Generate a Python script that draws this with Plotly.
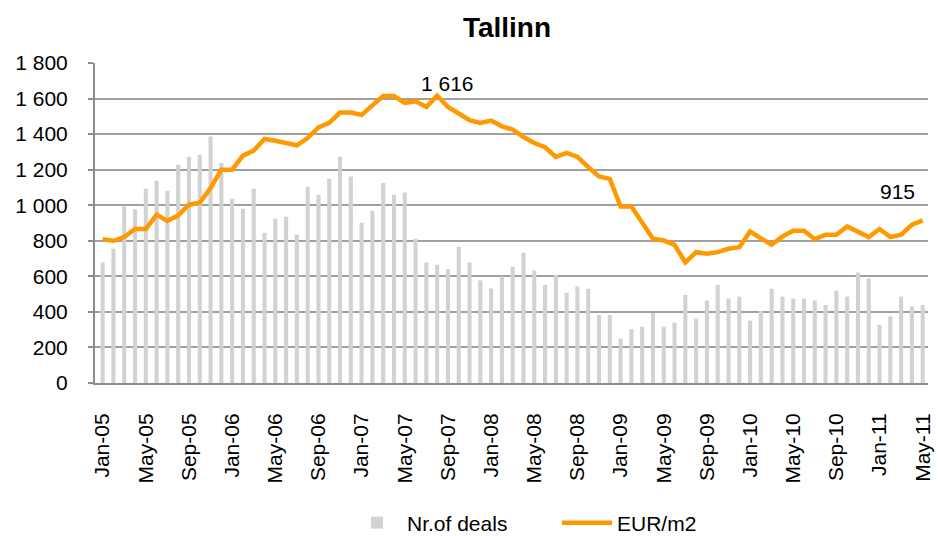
import plotly.graph_objects as go

months = ["Jan", "Feb", "Mar", "Apr", "May", "Jun", "Jul", "Aug", "Sep", "Oct", "Nov", "Dec"]
years = ["05", "06", "07", "08", "09", "10", "11"]
labels = [f"{m}-{y}" for y in years for m in months][:77]  # Jan-05 .. May-11

deals = [678, 755, 993, 978, 1093, 1138, 1082, 1228, 1273, 1284, 1386, 1238,
         1037, 980, 1093, 845, 924, 935, 834, 1104, 1059, 1149, 1273, 1161,
         901, 969, 1125, 1059, 1072, 811, 678, 665, 642, 766, 678, 577,
         532, 599, 654, 732, 633, 552, 608, 507, 543, 530, 383, 383,
         250, 304, 317, 394, 317, 340, 496, 362, 464, 552, 475, 486,
         351, 407, 530, 486, 475, 475, 464, 439, 520, 486, 621, 588,
         327, 374, 486, 430, 439]

eur_m2 = [809, 800, 821, 866, 866, 947, 911, 943, 1003, 1014, 1097, 1200,
          1200, 1279, 1307, 1373, 1363, 1350, 1337, 1378, 1438, 1463, 1521, 1521,
          1508, 1562, 1614, 1614, 1576, 1585, 1553, 1616, 1553, 1516, 1478, 1463,
          1476, 1444, 1425, 1384, 1350, 1326, 1272, 1294, 1272, 1215, 1162, 1148,
          993, 993, 903, 812, 802, 777, 678, 736, 727, 736, 755, 764,
          852, 815, 777, 824, 856, 856, 809, 834, 834, 881, 852, 821,
          866, 821, 834, 890, 915]

y_ticks = list(range(0, 1801, 200))

x = list(range(len(labels)))
FONT = "Liberation Sans, Arial, sans-serif"

fig = go.Figure()
fig.add_trace(go.Bar(x=x, y=deals, name="Nr.of deals", marker_color="#D2D2D2",
                     marker_line_width=0))
fig.add_trace(go.Scatter(x=x, y=eur_m2, name="EUR/m2", mode="lines",
                         line=dict(color="#FF9900", width=4.5)))

def fmt(v):
    return f"{v:,}".replace(",", " ")

peak_i = eur_m2.index(max(eur_m2))
last_i = len(eur_m2) - 1
fig.add_annotation(x=peak_i, y=eur_m2[peak_i], text=fmt(eur_m2[peak_i]), showarrow=False,
                   yanchor="bottom", yshift=-1, xshift=10, font=dict(size=21, color="black", family=FONT))
fig.add_annotation(x=last_i, y=eur_m2[last_i], text=fmt(eur_m2[last_i]), showarrow=False,
                   yanchor="bottom", xanchor="right", yshift=15, xshift=-6,
                   font=dict(size=21, color="black", family=FONT))

fig.update_layout(
    width=939, height=536,
    margin=dict(l=95, r=11, t=63, b=153, autoexpand=False),
    paper_bgcolor="white", plot_bgcolor="white",
    font=dict(family=FONT, color="black", size=20),
    separators=". ",
    bargap=0.62,
    title=dict(text="<b>Tallinn</b>", x=507 / 939, xref="container", xanchor="center",
               y=1 - 27 / 536, yref="container", yanchor="middle",
               font=dict(size=28, family=FONT, color="black")),
    showlegend=True,
    legend=dict(orientation="h", x=347 / 939, xref="container", xanchor="left",
                y=(536 - 523) / 536, yref="container", yanchor="middle",
                font=dict(size=21, family=FONT), itemwidth=50, entrywidth=145,
                bgcolor="rgba(0,0,0,0)"),
    xaxis=dict(range=[-0.71, 76.49], tickmode="array", tickvals=x[::4], ticktext=labels[::4],
               tickangle=-90, tickfont=dict(size=21, family=FONT), showgrid=False,
               showline=True, linecolor="#8C8C8C", linewidth=2, ticks="",
               ticklabelstandoff=20, zeroline=False, fixedrange=True, automargin=False),
    yaxis=dict(range=[0, 1800], tickmode="array", tickvals=y_ticks, separatethousands=True,
               tickformat=",d", showgrid=True, gridcolor="#A0A0A0", gridwidth=1.5,
               showline=True, linecolor="#8C8C8C", linewidth=2, ticks="outside",
               ticklen=5, tickcolor="#8C8C8C", tickwidth=1.5, ticklabelstandoff=16,
               tickfont=dict(size=21, family=FONT), zeroline=False, fixedrange=True,
               automargin=False),
)

fig.write_html("out.html", config={"displayModeBar": False},
               post_script="document.body.style.margin='0';document.body.style.padding='0';")
